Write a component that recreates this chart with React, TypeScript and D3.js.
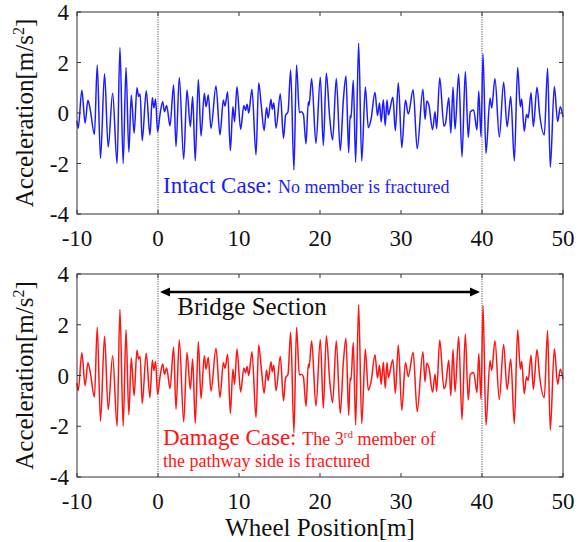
import React from 'react';
import * as d3 from 'd3';

// wheel position [m] of each sampled turning point of the trace
const positions = [
  -10.0, -9.85, -9.4, -9.0, -8.65, -8.35, -7.85, -7.5, -7.1, -6.6,
  -6.15, -5.6, -5.05, -4.7, -4.3, -3.95, -3.6, -3.3, -2.95, -2.6,
  -2.4, -2.2, -1.95, -1.45, -1.0, -0.7, -0.5, -0.3, -0.05, 0.25,
  0.58, 0.8, 1.07, 1.48, 1.93, 2.22, 2.63, 3.17, 3.58, 3.99,
  4.28, 4.6, 4.98, 5.31, 5.72, 5.93, 6.21, 6.54, 7.16, 7.65,
  8.07, 8.27, 8.6, 8.93, 9.25, 9.45, 9.75, 10.2, 10.6, 10.8,
  11.0, 11.2, 11.6, 12.1, 12.43, 12.75, 13.1, 13.4, 13.6, 13.95,
  14.1, 14.3, 14.57, 15.1, 15.5, 15.75, 16.05, 16.38, 16.78, 17.1,
  17.45, 17.7, 17.95, 18.27, 18.56, 18.65, 18.97, 19.5, 20.04, 20.41,
  20.78, 21.2, 21.56, 22.01, 22.5, 22.88, 23.21, 23.54, 23.72, 23.82,
  24.11, 24.4, 24.77, 25.15, 25.6, 25.96, 26.3, 26.79, 27.1, 27.35,
  27.55, 27.82, 28.05, 28.27, 28.45, 28.6, 29.0, 29.3, 29.67, 30.1,
  30.55, 30.9, 31.5, 32.0, 32.7, 32.97, 33.18, 33.45, 33.9, 34.2,
  34.4, 34.78, 35.3, 35.5, 35.9, 36.15, 36.42, 36.67, 37.12, 37.53,
  37.94, 38.3, 38.56, 38.97, 39.38, 39.6, 39.88, 40.12, 40.49, 40.99,
  41.2, 41.6, 42.14, 42.67, 43.1, 43.55, 43.99, 44.4, 44.73, 44.9,
  45.22, 45.5, 45.7, 46.05, 46.34, 46.79, 47.1, 47.69, 48.1, 48.43,
  48.93, 49.34, 49.67, 50.0,
];

// acceleration [m/s2], intact bridge
const intactAccel = [
  -0.3, -0.6, 0.9, -0.4, 0.5, 0.1, -0.85, 1.9, -1.8, 1.55,
  -1.35, 0.78, -2.0, 2.6, -2.0, 1.8, -1.55, 0.7, -0.8, 1.0,
  0.65, 0.75, -1.1, 0.88, -0.87, 0.6, 0.2, 0.55, -0.74, -0.05,
  0.45, 0.05, 0.3, -0.51, 1.11, -1.33, 1.41, -1.83, 0.91, -0.54,
  0.65, -1.89, 1.33, -0.91, 0.78, 0.25, 0.71, -0.61, 1.07, -0.87,
  0.51, 0.28, 0.84, -1.49, 0.25, -0.35, 1.04, -0.65, 0.3, 0.1,
  0.35, 0.0, 0.94, -1.66, 1.2, 0.3, -0.7, 0.22, -0.2, 0.54,
  0.15, 0.4, -0.6, 0.75, -1.0, -0.1, 0.05, 1.7, -2.26, 1.9,
  0.02, 0.05, -0.05, -1.22, 0.45, 0.3, 1.37, -1.2, 1.42, -1.29,
  1.57, -0.2, -1.07, 1.37, -1.49, 0.5, 1.47, -1.57, -0.1, -0.2,
  1.3, -1.95, 2.76, -1.9, 1.03, -0.58, -0.25, 0.82, -0.1, 0.4,
  -0.35, 0.52, -0.5, 0.51, -0.08, 0.1, 0.62, -0.7, 1.2, -1.37,
  0.51, -0.04, 0.92, -1.42, 0.94, -0.25, 0.48, 0.3, -0.66, 0.05,
  -0.62, 1.4, -0.52, -0.4, 0.6, -0.8, 1.02, -0.64, 1.54, -1.74,
  1.64, -0.97, 0.05, 0.12, -0.67, 0.86, -0.94, 2.34, -1.6, 0.58,
  0.2, 1.37, -0.95, 1.22, -0.55, 0.65, -1.9, 1.8, 0.25, 0.55,
  -0.72, -0.05, -0.2, 0.8, -0.54, 1.02, 0.0, -0.87, 1.77, -2.15,
  1.05, -0.34, 0.25, -0.15,
];

// acceleration [m/s2], 3rd member of the pathway side fractured
const damageAccel = [
  -0.3, -0.6, 0.9, -0.4, 0.5, 0.1, -0.85, 1.9, -1.8, 1.55,
  -1.35, 0.78, -2.0, 2.6, -2.0, 1.8, -1.55, 0.7, -0.8, 1.0,
  0.65, 0.75, -1.1, 0.88, -0.87, 0.6, 0.2, 0.55, -0.74, -0.05,
  0.45, 0.05, 0.3, -0.51, 1.11, -1.33, 1.41, -1.83, 0.91, -0.54,
  0.65, -1.89, 1.33, -0.91, 0.78, 0.25, 0.71, -0.61, 1.07, -0.87,
  0.51, 0.28, 0.84, -1.49, 0.25, -0.35, 1.04, -0.65, 0.3, 0.1,
  0.35, 0.0, 0.94, -1.66, 1.2, 0.3, -0.7, 0.22, -0.2, 0.54,
  0.15, 0.4, -0.6, 0.75, -1.0, -0.1, 0.05, 1.7, -2.26, 1.9,
  0.02, 0.05, -0.05, -1.22, 0.45, 0.3, 1.37, -1.2, 1.42, -1.29,
  1.57, -0.2, -1.07, 1.37, -1.49, 0.5, 1.47, -1.57, -0.1, -0.2,
  1.3, -1.95, 2.8, -1.9, 1.03, -0.58, -0.25, 0.82, -0.1, 0.4,
  -0.35, 0.52, -0.5, 0.51, -0.08, 0.1, 0.62, -0.7, 1.2, -1.37,
  0.51, -0.04, 0.92, -1.42, 0.94, -0.25, 0.48, 0.3, -0.66, 0.05,
  -0.62, 1.4, -0.52, -0.4, 0.6, -0.8, 1.02, -0.64, 1.54, -1.74,
  1.64, -0.97, 0.05, 0.12, -0.67, 0.86, -0.94, 2.76, -1.95, 0.58,
  0.2, 1.37, -0.95, 1.22, -0.55, 0.65, -1.9, 1.8, 0.25, 0.55,
  -0.72, -0.05, -0.2, 0.8, -0.54, 1.02, 0.0, -0.87, 1.77, -2.15,
  1.05, -0.34, 0.25, -0.15,
];

const xTicks = [-10, 0, 10, 20, 30, 40, 50];
const yTicks = [-4, -2, 0, 2, 4];
const bridgeEnds = [0, 40];

const W = 579;
const H = 542;
const LEFT = 77;
const RIGHT = 563;
const FONT = '"Liberation Serif", "Times New Roman", serif';
const TICK = 4;

function Panel({ top, bottom, values, color, children }: any) {
  const x = d3.scaleLinear().domain([-10, 50]).range([LEFT, RIGHT]);
  const y = d3.scaleLinear().domain([-4, 4]).range([bottom, top]);
  const line = d3
    .line<number>()
    .x((_, i) => x(positions[i]))
    .y((d) => y(d))
    .curve(d3.curveMonotoneX);
  const cy = (top + bottom) / 2;

  return (
    <g>
      {/* dotted bridge entry / exit */}
      {bridgeEnds.map((b) => (
        <line key={b} x1={x(b)} x2={x(b)} y1={top} y2={bottom}
          stroke="#555" strokeWidth={1} strokeDasharray="1.2,1.2" />
      ))}
      <path d={line(values) || ''} fill="none" stroke={color} strokeWidth={1.5}
        strokeLinejoin="round" />
      {/* frame */}
      <rect x={LEFT} y={top} width={RIGHT - LEFT} height={bottom - top}
        fill="none" stroke="#333" strokeWidth={1} />
      {xTicks.map((t) => (
        <g key={'x' + t}>
          <line x1={x(t)} x2={x(t)} y1={bottom} y2={bottom - TICK} stroke="#333" />
          <line x1={x(t)} x2={x(t)} y1={top} y2={top + TICK} stroke="#333" />
          <text x={x(t)} y={bottom + 32} textAnchor="middle" fontSize={23}
            fontFamily={FONT} fill="#111">{t}</text>
        </g>
      ))}
      {yTicks.map((t) => (
        <g key={'y' + t}>
          <line x1={LEFT} x2={LEFT + TICK} y1={y(t)} y2={y(t)} stroke="#333" />
          <line x1={RIGHT} x2={RIGHT - TICK} y1={y(t)} y2={y(t)} stroke="#333" />
          <text x={69} y={y(t)} dy="0.35em" textAnchor="end" fontSize={23}
            fontFamily={FONT} fill="#111">{t}</text>
        </g>
      ))}
      <text transform={`translate(33,${cy}) rotate(-90)`} textAnchor="middle"
        fontSize={25} fontFamily={FONT} fill="#111">
        Acceleration[m/s<tspan fontSize={16} dy={-9}>2</tspan><tspan dy={9}>]</tspan>
      </text>
      {children && children(x, y)}
    </g>
  );
}

export default function App() {
  return (
    <svg width={W} height={H} style={{ position: 'absolute', left: 0, top: 0, background: '#fff' }}>
      <Panel top={12} bottom={214} values={intactAccel} color="#1c1cff">
        {() => (
          <text x={163} y={193} fontFamily={FONT} fill="#1c1cff">
            <tspan fontSize={23}>Intact Case: </tspan>
            <tspan fontSize={18}>No member is fractured</tspan>
          </text>
        )}
      </Panel>
      <Panel top={274} bottom={477} values={damageAccel} color="#ff1414">
        {(x: any) => {
          const ay = 292;
          const x0 = x(bridgeEnds[0]) + 2;
          const x1 = x(bridgeEnds[1]) - 2;
          return (
            <g>
              <line x1={x0 + 6} x2={x1 - 6} y1={ay} y2={ay} stroke="#000" strokeWidth={2.5} />
              <path d={`M${x0},${ay} L${x0 + 10},${ay - 4.5} L${x0 + 10},${ay + 4.5} Z`} fill="#000" />
              <path d={`M${x1},${ay} L${x1 - 10},${ay - 4.5} L${x1 - 10},${ay + 4.5} Z`} fill="#000" />
              <text x={252} y={315} textAnchor="middle" fontSize={25} fontFamily={FONT} fill="#111">
                Bridge Section
              </text>
              <text x={163} y={445} fontFamily={FONT} fill="#ff1414">
                <tspan fontSize={23}>Damage Case: </tspan>
                <tspan fontSize={18}>The 3</tspan>
                <tspan fontSize={11} dy={-7}>rd</tspan>
                <tspan fontSize={18} dy={7}> member of</tspan>
              </text>
              <text x={163} y={467} fontSize={18} fontFamily={FONT} fill="#ff1414">
                the pathway side is fractured
              </text>
            </g>
          );
        }}
      </Panel>
      <text x={(LEFT + RIGHT) / 2} y={536} textAnchor="middle" fontSize={25}
        fontFamily={FONT} fill="#111">Wheel Position[m]</text>
    </svg>
  );
}
